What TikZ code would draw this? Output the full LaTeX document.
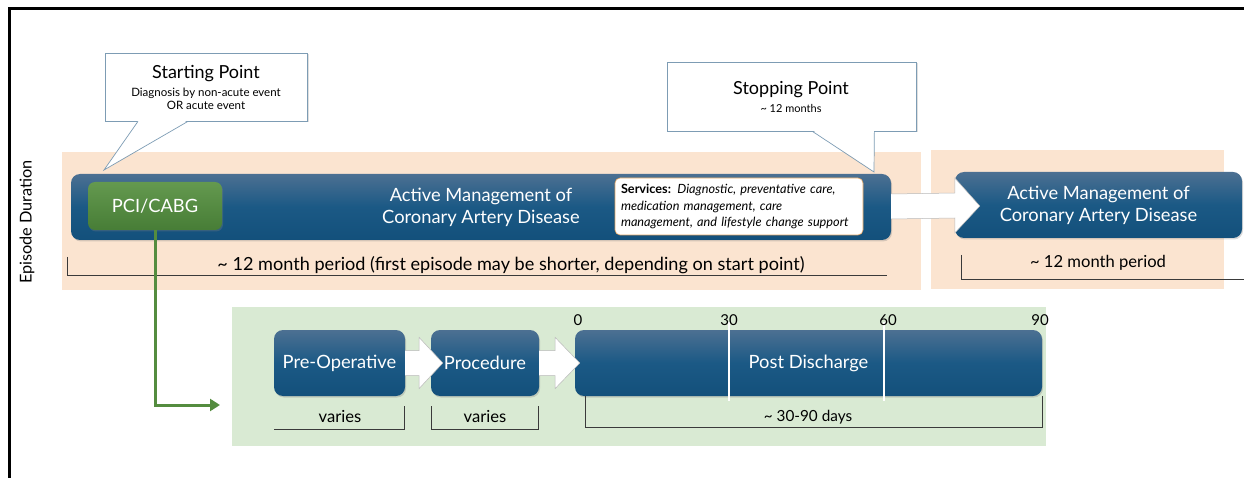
\documentclass[tikz,border=0pt]{standalone}
\usepackage{fontspec}
\setmainfont{Lato}
\usetikzlibrary{arrows.meta,positioning,calc,shadows}

\definecolor{barTop}{HTML}{4C7092}
\definecolor{barMid}{HTML}{1B5985}
\definecolor{barBot}{HTML}{13507B}
\definecolor{pciTop}{HTML}{64994F}
\definecolor{pciBot}{HTML}{477D36}
\definecolor{peach}{HTML}{FBE4D0}
\definecolor{mint}{HTML}{D9EAD3}
\definecolor{tipLine}{HTML}{7D9CB4}
\definecolor{svcLine}{HTML}{E2A25E}
\definecolor{leaf}{HTML}{548C3F}
\definecolor{rule}{HTML}{3A3A3A}

\begin{document}
\begin{tikzpicture}[x=1pt,y=-1pt,
  phase/.style={rounded corners=9pt,top color=barTop,bottom color=barBot,middle color=barMid,
    text=white,align=center,inner sep=0pt,font=\fontsize{18.3}{22}\selectfont,
    drop shadow={opacity=0.3,shadow xshift=1pt,shadow yshift=-1.5pt}},
  treat/.style={rounded corners=7pt,top color=pciTop,bottom color=pciBot,text=white,
    inner sep=0pt,font=\fontsize{18.3}{21}\selectfont,
    drop shadow={opacity=0.3,shadow xshift=1pt,shadow yshift=-1.5pt}},
  callbox/.style={draw=tipLine,line width=0.7pt,fill=white,inner sep=0pt,
    drop shadow={opacity=0.25,shadow xshift=1.5pt,shadow yshift=-1.5pt}},
  fat/.style={fill=white,draw=gray!55,line width=0.5pt,line join=miter},
  span/.style={draw=rule,line width=0.8pt},
  spantxt/.style={font=\fontsize{16.6}{19}\selectfont,inner sep=0pt},
  ticktxt/.style={font=\fontsize{15}{17}\selectfont,inner sep=0pt}]
  \useasboundingbox (0,0) rectangle (1244,478);

  % frame
  \draw[line width=3pt] (9.5,478) -- (9.5,9) -- (1244,9);
  \node[rotate=90,font=\fontsize{16.3}{19}\selectfont] (dur) at (27,222) {Episode Duration};

  % backgrounds
  \fill[peach] (62,152) rectangle (921,290);
  \fill[peach] (931,150) rectangle (1224,289);
  \fill[mint] (232,307) rectangle (1046,446);

  % yearly episodes
  \node[phase,minimum width=820,minimum height=66] (bar) at (481,207)
    {Active Management of\\Coronary Artery Disease};
  \node[phase,minimum width=287,minimum height=66] (bar2) at (1098.5,205)
    {Active Management of\\Coronary Artery Disease};
  \node[treat,minimum width=134,minimum height=48] (pci) at (155,206) {PCI/CABG};
  \node[draw=svcLine,line width=0.6pt,fill=white,rounded corners=5pt,inner xsep=6pt,
    text width=236,minimum height=57,align=left,font=\fontsize{12.7}{16.5}\selectfont]
    (svc) at (739,206.5)
    {\textbf{Services:} \textit{Diagnostic, preventative care,}\\
     \textit{medication management, care}\\
     \textit{management, and lifestyle change support}};

  \draw[fat] ($(bar.east)+(0,-13)$) -- ($(bar2.west)+(0,-12)$) -- ++(0,-15)
    -- ($(bar2.west)+(25,1)$) -- ($(bar2.west)+(0,28)$) -- ++(0,-15) -- ($(bar.east)+(0,12)$);

  % callouts
  \node[callbox,minimum width=202,minimum height=68] (start) at (206,87) {};
  \coordinate (startTip) at (104,170);
  \fill[white] ($(start.south)+(-67.5,-1)$) -- (startTip) -- ($(start.south)+(-18.5,-1)$) -- cycle;
  \draw[tipLine,line width=0.7pt] ($(start.south)+(-68,0)$) -- (startTip) -- ($(start.south)+(-18,0)$);
  \node[font=\fontsize{18}{21}\selectfont,inner sep=0pt] (startT) at (206,74) {Starting Point};
  \node[font=\fontsize{11.5}{13}\selectfont,align=center,inner sep=0pt] (startS) at (206,98.5)
    {Diagnosis by non-acute event\\OR acute event};

  \node[callbox,minimum width=249,minimum height=69] (stop) at (791.5,96.5) {};
  \coordinate (stopTip) at (874,172);
  \fill[white] ($(stop.south east)+(-103.5,-1)$) -- (stopTip) -- ($(stop.south east)+(-42.4,-1)$) -- cycle;
  \draw[tipLine,line width=0.7pt] ($(stop.south east)+(-104,0)$) -- (stopTip) -- ($(stop.south east)+(-42,0)$);
  \node[font=\fontsize{18}{21}\selectfont,inner sep=0pt] (stopT) at (791,90) {Stopping Point};
  \node[font=\fontsize{11}{13}\selectfont,inner sep=0pt] (stopS) at (791,108) {\textasciitilde{} 12 months};

  % period brackets
  \draw[span] (67,257) -- (67,275.5) -- (887,275.5);
  \node[spantxt,font=\fontsize{18.1}{21}\selectfont] (per1) at (511,265)
    {\textasciitilde{} 12 month period (first episode may be shorter, depending on start point)};
  \draw[span] (961,255) -- (961,279) -- (1244,279);
  \node[spantxt] (per2) at (1098,263) {\textasciitilde{} 12 month period};

  % procedure episode
  \node[phase,minimum width=131,minimum height=66] (pre) at (339.5,363) {Pre-Operative};
  \node[phase,minimum width=108,minimum height=66] (proc) at (485,363) {Procedure};
  \node[phase,minimum width=467,minimum height=66] (post) at (808.5,363) {Post Discharge};
  \foreach \x in {729,884}
    \draw[white,line width=1.3pt] (\x,322) -- (\x,401);
  \foreach \d/\x in {0/578,30/729,60/888,90/1040}
    \node[ticktxt] (day\d) at (\x,320) {\d};

  \draw[fat] ($(pre.east)+(0,-12.5)$) -- ($(pre.east)+(14,-12.5)$) -- ++(0,-13)
    -- ($(proc.west)+(12,0)$) -- ($(pre.east)+(14,25.5)$) -- ++(0,-13) -- ($(pre.east)+(0,12.5)$);
  \draw[fat] ($(proc.east)+(0,-12.5)$) -- ($(proc.east)+(16,-12.5)$) -- ++(0,-13)
    -- ($(post.west)+(5,0)$) -- ($(proc.east)+(16,25.5)$) -- ++(0,-13) -- ($(proc.east)+(0,12.5)$);

  \draw[span] (274,429) -- (404,429) -- (404,406);
  \node[spantxt] (v1) at (340,417) {varies};
  \draw[span] (431,406) -- (431,429) -- (538,429) -- (538,406);
  \node[spantxt] (v2) at (485,417) {varies};
  \draw[span] (585,396) -- (585,427) -- (1042,427) -- (1042,396);
  \node[spantxt,font=\fontsize{15.3}{18}\selectfont] (d1) at (808,417) {\textasciitilde{} 30-90 days};

  % link to procedure episode
  \coordinate (pciIn) at (220,405);
  \draw[leaf,line width=3pt,-{Triangle[length=10pt,width=12pt]}] (pci.south) |- (pciIn);
\end{tikzpicture}
\end{document}
